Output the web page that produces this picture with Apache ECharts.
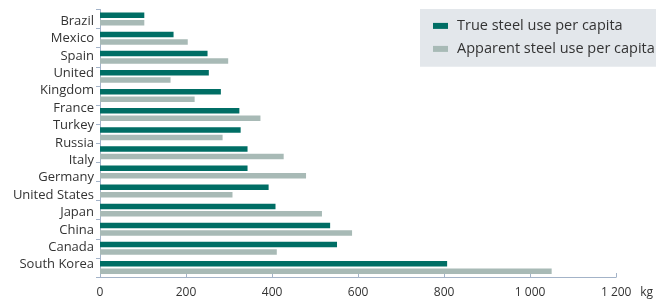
<!DOCTYPE html>
<html>
<head>
<meta charset="utf-8">
<script src="https://cdn.jsdelivr.net/npm/echarts@6/dist/echarts.min.js"></script>
<style>
html, body { margin: 0; padding: 0; background: #fff; }
#chart { width: 656px; height: 299px; }
</style>
</head>
<body>
<div id="chart"></div>
<script>
// countries, top to bottom
var countries = ['Brazil', 'Mexico', 'Spain', 'United Kingdom', 'France', 'Turkey', 'Russia',
	'Italy', 'Germany', 'United States', 'Japan', 'China', 'Canada', 'South Korea'];
// the printed labels (United Kingdom is split on two lines in the source)
var labelRows = ['Brazil', 'Mexico', 'Spain', 'United', 'Kingdom', 'France', 'Turkey', 'Russia',
	'Italy', 'Germany', 'United States', 'Japan', 'China', 'Canada', 'South Korea'];
var trueUse = [103, 171, 250, 253, 281, 324, 327, 343, 343, 392, 408, 535, 551, 807];
var apparentUse = [103, 204, 298, 164, 220, 373, 285, 427, 479, 308, 516, 586, 411, 1050];
var xTicks = { min: 0, max: 1200, interval: 200 };

var font = '"Open Sans", "Noto Sans", sans-serif';
var axisColor = '#a3b3c8';
var textColor = '#333333';

function fmt(v) {
	return String(v).replace(/\B(?=(\d{3})+(?!\d))/g, ' ');
}

var chart = echarts.init(document.getElementById('chart'));
var option = {
	animation: false,
	textStyle: { fontFamily: font },
	grid: [
		{ left: 100, right: 39.5, top: 9.5, bottom: 22, containLabel: false },
		// grid only for the printed label column
		{ left: 100, right: 39.5, top: 12.3, bottom: 25.7, containLabel: false }
	],
	legend: {
		left: 420, top: 9,
		orient: 'vertical',
		backgroundColor: '#e3e7eb',
		padding: [9.4, 4, 10.4, 13],
		itemWidth: 15, itemHeight: 6, itemGap: 8,
		icon: 'rect',
		textStyle: { fontFamily: font, fontSize: 14.5, color: textColor, padding: [0, 0, 0, 4] },
		data: ['True steel use per capita', 'Apparent steel use per capita']
	},
	xAxis: [
		{
			type: 'value', gridIndex: 0,
			min: xTicks.min, max: xTicks.max, interval: xTicks.interval,
			name: 'kg', nameLocation: 'end', nameGap: 24,
			nameTextStyle: { fontFamily: font, fontSize: 12, color: textColor, verticalAlign: 'top', padding: [10, 0, 0, 0] },
			axisLine: { show: true, lineStyle: { color: axisColor, width: 1 } },
			axisTick: { show: true, inside: true, length: 4, lineStyle: { color: axisColor } },
			axisLabel: { fontFamily: font, fontSize: 12, color: textColor, margin: 10, formatter: fmt },
			splitLine: { show: false }
		},
		{ type: 'value', gridIndex: 1, show: false, min: 0, max: 1 }
	],
	yAxis: [
		{
			type: 'category', gridIndex: 0, position: 'left', inverse: true,
			data: countries,
			axisLine: { show: true, lineStyle: { color: axisColor, width: 1 } },
			axisTick: { show: true, length: 4, lineStyle: { color: axisColor } },
			axisLabel: { show: false }
		},
		{
			type: 'category', gridIndex: 1, position: 'left', inverse: true,
			data: labelRows,
			axisLine: { show: false },
			axisTick: { show: false },
			axisLabel: { fontFamily: font, fontSize: 13, color: textColor, margin: 6 }
		}
	],
	series: [
		{
			name: 'True steel use per capita', type: 'bar', xAxisIndex: 0, yAxisIndex: 0,
			barWidth: 5.5, barGap: '36%',
			itemStyle: { color: '#006e65' },
			data: trueUse
		},
		{
			name: 'Apparent steel use per capita', type: 'bar', xAxisIndex: 0, yAxisIndex: 0,
			barWidth: 5.5, barGap: '36%',
			itemStyle: { color: '#a8bab6' },
			data: apparentUse
		}
	]
};
chart.setOption(option);
</script>
</body>
</html>
